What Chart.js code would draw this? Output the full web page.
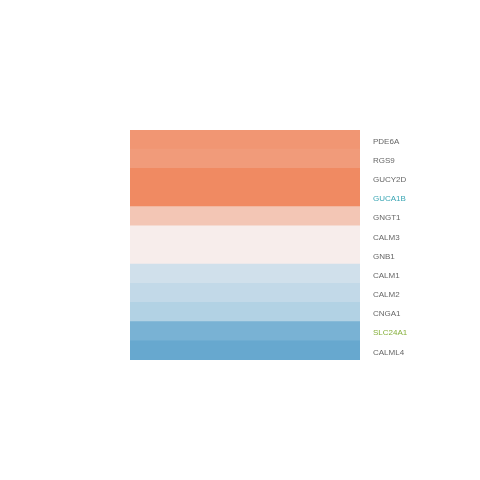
<!DOCTYPE html>
<html>
<head>
<meta charset="utf-8">
<script src="https://cdn.jsdelivr.net/npm/chart.js@4.4.0/dist/chart.umd.min.js"></script>
<style>
html,body{margin:0;padding:0;background:#fff;}
#wrap{width:480px;height:480px;}
</style>
</head>
<body>
<div id="wrap"><canvas id="c" width="480" height="480"></canvas></div>
<script>
// Genes (rows, top to bottom)
const genes = ["PDE6A","RGS9","GUCY2D","GUCA1B","GNGT1","CALM3","GNB1","CALM1","CALM2","CNGA1","SLC24A1","CALML4"];
// Scaled expression value per gene (-1 .. 1)
const values = [0.88, 0.83, 1.0, 1.0, 0.4, 0.0, 0.0, -0.25, -0.37, -0.5, -0.88, -1.0];
// Label colours
const labelColors = ["#666","#666","#666","#3aa6b4","#666","#666","#666","#666","#666","#666","#86b03c","#666"];

// Diverging colour map stops (value -> rgb)
const cmapStops = [-1, -0.5, -0.25, 0, 0.4, 1];
const cmapColors = [[103,168,207],[178,210,228],[208,224,235],[247,237,235],[243,198,181],[240,138,98]];
function colorFor(v){
  v = Math.max(-1, Math.min(1, v));
  let i = 0;
  while (i < cmapStops.length - 2 && v > cmapStops[i+1]) i++;
  const t = (v - cmapStops[i]) / (cmapStops[i+1] - cmapStops[i]);
  const a = cmapColors[i], b = cmapColors[i+1];
  const c = a.map((x,k)=>Math.round(x + (b[k]-x)*t));
  return `rgb(${c[0]},${c[1]},${c[2]})`;
}

new Chart(document.getElementById('c'), {
  type: 'bar',
  data: {
    labels: genes,
    datasets: [{
      data: genes.map(() => [0, 1]),
      backgroundColor: values.map(colorFor),
      borderWidth: 0,
      categoryPercentage: 1,
      barPercentage: 1.04
    }]
  },
  options: {
    indexAxis: 'y',
    responsive: false,
    animation: false,
    layout: { padding: { left: 130, top: 130, bottom: 120, right: 0 } },
    plugins: { legend: { display: false }, tooltip: { enabled: false } },
    scales: {
      x: { display: false, min: 0, max: 1 },
      y: {
        position: 'right',
        grid: { display: false, drawTicks: false },
        border: { display: false },
        afterFit: (s) => { s.width = 120; },
        ticks: {
          padding: 13,
          labelOffset: 2,
          color: labelColors,
          font: { family: 'Arial, "Liberation Sans", sans-serif', size: 8 }
        }
      }
    }
  }
});
</script>
</body>
</html>
